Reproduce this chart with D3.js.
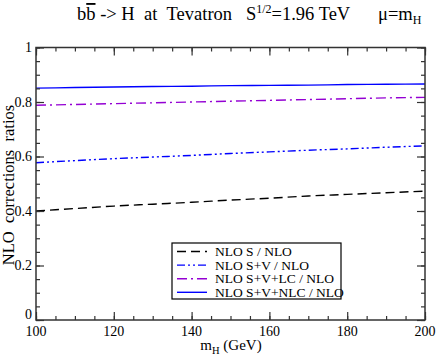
<!DOCTYPE html>
<html><head><meta charset="utf-8">
<script src="https://cdn.jsdelivr.net/npm/d3@7"></script>
<style>body{margin:0;background:#fff}svg{display:block}text{font-family:"Liberation Serif","Times New Roman",serif;fill:#000;white-space:pre}</style>
</head><body><svg id="c" width="436" height="356"></svg>
<script>
const mH = [100,110,120,130,140,150,160,170,180,190,200];
const nloS = [0.400,0.409,0.418,0.425,0.432,0.440,0.447,0.455,0.461,0.467,0.473];
const nloSV = [0.577,0.585,0.592,0.598,0.604,0.611,0.617,0.623,0.628,0.634,0.639];
const nloSVLC = [0.788,0.791,0.794,0.797,0.800,0.803,0.806,0.809,0.812,0.815,0.817];
const nloSVNLC = [0.851,0.853,0.855,0.857,0.858,0.860,0.861,0.862,0.864,0.865,0.866];
const seriesNames = ["NLO S / NLO","NLO S+V / NLO","NLO S+V+LC / NLO","NLO S+V+NLC / NLO"];
const xTicks = [100,120,140,160,180,200];
const yTicks = [0,0.2,0.4,0.6,0.8,1];

const svg = d3.select("#c");
const L=36, R=425, T=47.5, B=320;
const x = d3.scaleLinear().domain([100,200]).range([L,R]);
const y = d3.scaleLinear().domain([0,1]).range([B,T]);

const series = [
  {v:nloS, color:"#000", dash:"9,5", name:seriesNames[0]},
  {v:nloSV, color:"#0000ff", dash:"8,3,2,3,2,3", name:seriesNames[1]},
  {v:nloSVLC, color:"#9400d3", dash:"10,4,2,4", name:seriesNames[2]},
  {v:nloSVNLC, color:"#0000ff", dash:null, name:seriesNames[3]}
];

const line = d3.line().x((d,i)=>x(mH[i])).y(d=>y(d)).curve(d3.curveMonotoneX);
series.forEach(s=>{
  svg.append("path").datum(s.v).attr("d",line).attr("fill","none")
    .attr("stroke",s.color).attr("stroke-width",1.4)
    .attr("stroke-dasharray",s.dash);
});

const axCol="#333";
function tickAxis(g, ax){ g.call(ax); g.select(".domain").remove(); g.selectAll("line").attr("stroke",axCol).attr("stroke-width",1.2);}
const xMinor = d3.range(100,201,5);
const yMinor = d3.range(0,1.0001,0.05);
tickAxis(svg.append("g").attr("transform",`translate(0,${B})`),
  d3.axisBottom(x).tickValues(xMinor).tickSize(-4).tickFormat(""));
tickAxis(svg.append("g").attr("transform",`translate(0,${B})`),
  d3.axisBottom(x).tickValues(xTicks).tickSize(-8).tickFormat(""));
tickAxis(svg.append("g").attr("transform",`translate(0,${T})`),
  d3.axisTop(x).tickValues(xMinor).tickSize(-4).tickFormat(""));
tickAxis(svg.append("g").attr("transform",`translate(0,${T})`),
  d3.axisTop(x).tickValues(xTicks).tickSize(-8).tickFormat(""));
tickAxis(svg.append("g").attr("transform",`translate(${L},0)`),
  d3.axisLeft(y).tickValues(yMinor).tickSize(-4).tickFormat(""));
tickAxis(svg.append("g").attr("transform",`translate(${L},0)`),
  d3.axisLeft(y).tickValues(yTicks).tickSize(-8).tickFormat(""));
tickAxis(svg.append("g").attr("transform",`translate(${R},0)`),
  d3.axisRight(y).tickValues(yMinor).tickSize(-4).tickFormat(""));
tickAxis(svg.append("g").attr("transform",`translate(${R},0)`),
  d3.axisRight(y).tickValues(yTicks).tickSize(-8).tickFormat(""));

svg.append("rect").attr("x",L).attr("y",T).attr("width",R-L).attr("height",B-T)
  .attr("fill","none").attr("stroke",axCol).attr("stroke-width",1.5);

svg.append("g").selectAll("text").data(xTicks).join("text")
  .attr("x",d=>x(d)).attr("y",B+16).attr("text-anchor","middle")
  .attr("font-size",14).text(d=>d);
svg.append("g").selectAll("text").data(yTicks).join("text")
  .attr("x",L-4).attr("y",d=>y(d)+(d===0?-1:4.5)).attr("text-anchor","end")
  .attr("font-size",14).text(d=>d3.format("")(d));

const xl = svg.append("text").attr("x",231).attr("y",350).attr("text-anchor","middle").attr("font-size",15);
xl.append("tspan").text("m");
xl.append("tspan").attr("dy",4).attr("font-size",10.5).text("H");
xl.append("tspan").attr("dy",-4).text(" (GeV)");

svg.append("text").attr("transform","translate(14,185) rotate(-90)")
  .attr("text-anchor","middle").attr("font-size",16.5).text("NLO  corrections  ratios");

const t = svg.append("text").attr("x",77).attr("y",20).attr("font-size",18.5);
t.append("tspan").text("b");
t.append("tspan").attr("style","text-decoration:overline").text("b");
t.append("tspan").text(" -> H\u00a0\u00a0at\u00a0\u00a0Tevatron\u00a0\u00a0\u00a0S");
t.append("tspan").attr("dy",-7).attr("font-size",12).text("1/2");
t.append("tspan").attr("dy",7).text("=1.96 TeV\u00a0\u00a0\u00a0\u00a0\u00a0\u00a0\u03bc=m");
t.append("tspan").attr("dy",4).attr("font-size",12).text("H");

const lg = svg.append("g");
lg.append("rect").attr("x",172).attr("y",243).attr("width",169).attr("height",56)
  .attr("fill","#fff").attr("stroke","#000").attr("stroke-width",1.2);
series.forEach((s,i)=>{
  const yy = 251.5 + i*13.6;
  lg.append("line").attr("x1",177).attr("x2",207).attr("y1",yy).attr("y2",yy)
    .attr("stroke",s.color).attr("stroke-width",1.4).attr("stroke-dasharray",s.dash);
  lg.append("text").attr("x",215).attr("y",yy+4.5).attr("font-size",13.5).text(s.name);
});
</script></body></html>
